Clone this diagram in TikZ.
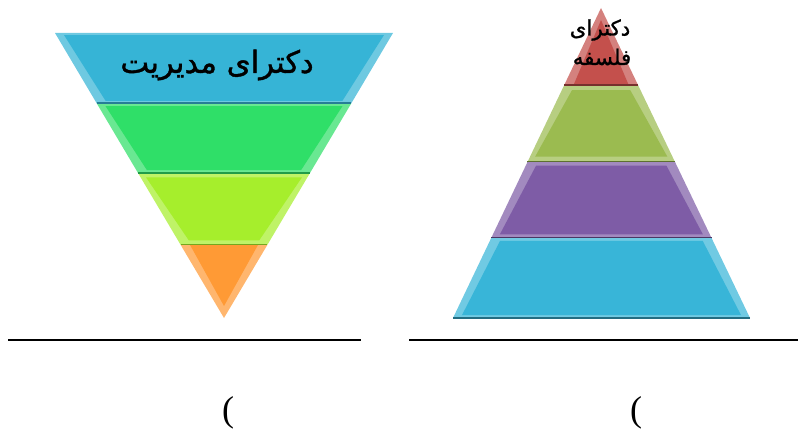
\documentclass[tikz,border=0pt]{standalone}
\usepackage{fontspec}
\setmainfont{Liberation Serif}
\newfontfamily\arabicfont[Script=Arabic,FakeBold=1.2]{DejaVu Sans}
\TeXXeTstate=1
\usetikzlibrary{calc}

\definecolor{lblue}{HTML}{36B4D6}
\definecolor{lgreen}{HTML}{2FDF68}
\definecolor{lyellow}{HTML}{A6EE2C}
\definecolor{lorange}{HTML}{FF9A35}
\definecolor{rred}{HTML}{C4504C}
\definecolor{rgreen}{HTML}{9BBB50}
\definecolor{rpurple}{HTML}{7E5CA6}
\definecolor{rblue}{HTML}{38B5D8}

\tikzset{
  farsi/.style={font=\arabicfont\fontsize{#1}{#1}\selectfont, inner sep=0pt, align=center},
  paren/.style={font=\fontsize{27}{27}\selectfont, inner sep=0pt}
}

\begin{document}
\begin{tikzpicture}[x=0.75pt,y=-0.75pt]
\useasboundingbox (0,0) rectangle (799,438);

% Inverted pyramid (left)
\coordinate (ltip) at (224,318);
\coordinate (ltl) at (55,33);
\coordinate (ltr) at (393,33);
\foreach \ta/\tb/\col in {0.256/0.509/lyellow,0.509/0.754/lgreen,0.754/1/lblue}
{
\coordinate (A) at ($(ltip)!\tb!(ltl)$);
\coordinate (B) at ($(ltip)!\ta!(ltl)$);
\coordinate (C) at ($(ltip)!\ta!(ltr)$);
\coordinate (D) at ($(ltip)!\tb!(ltr)$);
\fill[\col!72!white] (A)--(B)--(C)--(D)--cycle;
\fill[\col] ($(A)!7pt!(C)$)--($(B)!7pt!(D)$)--($(C)!7pt!(A)$)--($(D)!7pt!(B)$)--cycle;
\draw[\col!70!black,line width=1.2pt] (B)--(C);
}
% orange tip
\coordinate (A) at ($(ltip)!0.256!(ltl)$);
\coordinate (D) at ($(ltip)!0.256!(ltr)$);
\fill[lorange!72!white] (A)--(ltip)--(D)--cycle;
\fill[lorange] ($(A)!7pt!(D)$)--($(ltip)!9pt!($(A)!0.5!(D)$)$)--($(D)!7pt!(A)$)--cycle;
\node[farsi=23] (mgmt) at (217,65) {\beginR دکترای مدیریت\endR};

% Pyramid (right)
\coordinate (rtip) at (601,8);
\coordinate (rbl) at (453,318);
\coordinate (rbr) at (750,318);
\foreach \ta/\tb/\col in {0.248/0.497/rgreen,0.497/0.742/rpurple,0.742/1/rblue}
{
\coordinate (A) at ($(rtip)!\ta!(rbl)$);
\coordinate (B) at ($(rtip)!\tb!(rbl)$);
\coordinate (C) at ($(rtip)!\tb!(rbr)$);
\coordinate (D) at ($(rtip)!\ta!(rbr)$);
\fill[\col!72!white] (A)--(B)--(C)--(D)--cycle;
\fill[\col] ($(A)!7pt!(C)$)--($(B)!7pt!(D)$)--($(C)!7pt!(A)$)--($(D)!7pt!(B)$)--cycle;
\draw[\col!60!black,line width=1.2pt] (B)--(C);
}
% red tip
\coordinate (B) at ($(rtip)!0.248!(rbl)$);
\coordinate (C) at ($(rtip)!0.248!(rbr)$);
\fill[rred!72!white] (rtip)--(B)--(C)--cycle;
\fill[rred] ($(rtip)!9pt!($(B)!0.5!(C)$)$)--($(B)!7pt!(C)$)--($(C)!7pt!(B)$)--cycle;
\draw[rred!60!black,line width=1.2pt] (B)--(C);
\node[farsi=16] (phd1) at (600,30) {\beginR دکترای\endR};
\node[farsi=16] (phd2) at (602,57) {\beginR فلسفه\endR};

% Base lines
\draw[line width=1pt] (8,340)--(361,340);
\draw[line width=1pt] (409,340)--(798,340);

% Brackets
\node[paren] (lbr) at (228,413) {(};
\node[paren] (rbr) at (636,413) {(};

\end{tikzpicture}
\end{document}
